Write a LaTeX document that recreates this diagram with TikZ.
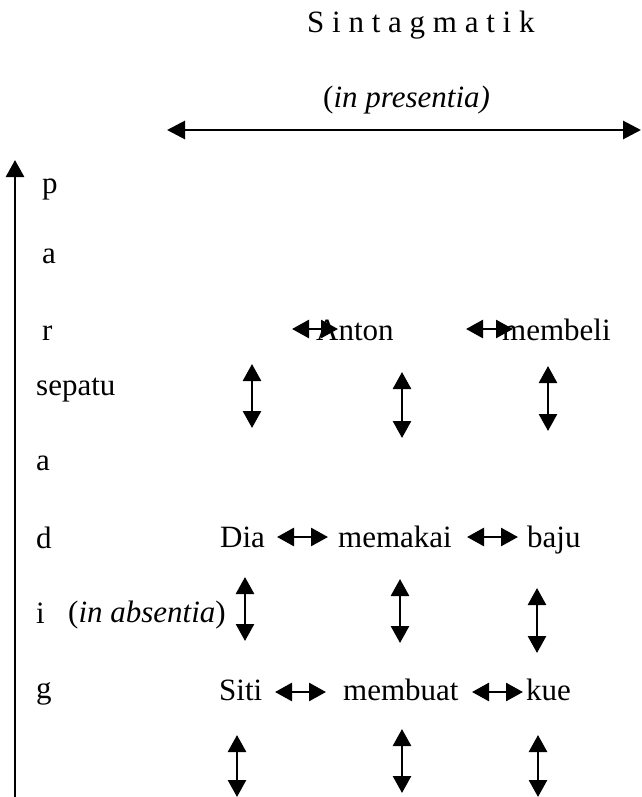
\documentclass[tikz,border=0pt]{standalone}
\usepackage{fontspec}
\setmainfont{Liberation Serif}
\usetikzlibrary{arrows.meta}
\begin{document}
\begin{tikzpicture}[x=1pt,y=-1pt,
  txt/.style={anchor=base west,inner sep=0pt,font=\fontsize{31}{36}\selectfont},
  dbl/.style={{Triangle[length=17pt,width=18pt]}-{Triangle[length=17pt,width=18pt]},line width=2.7pt},
  big/.style={{Triangle[length=18pt,width=18pt]}-{Triangle[length=18pt,width=18pt]},line width=2.9pt},
  axis/.style={-{Triangle[length=17pt,width=18pt]},line width=2.7pt}]
\useasboundingbox (0,0) rectangle (641,797);
% titles
\node[txt] (sin) at (307,33) {S i n t a g m a t i k};
\node[txt] (pres) at (323,108) {(\textit{in presentia)}};
% axes
\coordinate (hl) at (167,130); \coordinate (hr) at (641,130);
\draw[big] (hl) -- (hr);
\coordinate (vb) at (15,797); \coordinate (vt) at (15,160);
\draw[axis] (vb) -- (vt);
% left letters
\node[txt] (p) at (42,193) {p};
\node[txt] (a1) at (42,263) {a};
\node[txt] (r) at (42,340) {r};
\node[txt] (sep) at (36,395) {sepatu};
\node[txt] (a2) at (36,470) {a};
\node[txt] (d) at (36,548) {d};
\node[txt] (i) at (36,623) {i};
\node[txt] (abs) at (68,622) {(\textit{in absentia})};
\node[txt] (g) at (36,698) {g};
% words
\node[txt] (anton) at (316,340) {Anton};
\node[txt] (membeli) at (502,340) {membeli};
\node[txt] (dia) at (220,547) {Dia};
\node[txt] (memakai) at (338,547) {memakai};
\node[txt] (baju) at (527,547) {baju};
\node[txt] (siti) at (219,700) {Siti};
\node[txt] (membuat) at (343,700) {membuat};
\node[txt] (kue) at (526,700) {kue};
% horizontal arrows
\coordinate (h1a) at (292,329); \coordinate (h1b) at (338,329);
\coordinate (h2a) at (466,329); \coordinate (h2b) at (513,329);
\coordinate (h3a) at (277,537); \coordinate (h3b) at (328,537);
\coordinate (h4a) at (467,537); \coordinate (h4b) at (518,537);
\coordinate (h5a) at (275,692); \coordinate (h5b) at (326,692);
\coordinate (h6a) at (472,692); \coordinate (h6b) at (523,692);
\foreach \n in {1,...,6} {\draw[dbl] (h\n a) -- (h\n b);}
% vertical arrows
\coordinate (v1a) at (252,364); \coordinate (v1b) at (252,428);
\coordinate (v2a) at (402,372); \coordinate (v2b) at (402,438);
\coordinate (v3a) at (548,366); \coordinate (v3b) at (548,431);
\coordinate (v4a) at (245,577); \coordinate (v4b) at (245,641);
\coordinate (v5a) at (400,579); \coordinate (v5b) at (400,643);
\coordinate (v6a) at (537,588); \coordinate (v6b) at (537,653);
\coordinate (v7a) at (237,735); \coordinate (v7b) at (237,797);
\coordinate (v8a) at (402,729); \coordinate (v8b) at (402,793);
\coordinate (v9a) at (538,735); \coordinate (v9b) at (538,797);
\foreach \n in {1,...,9} {\draw[dbl] (v\n a) -- (v\n b);}
\end{tikzpicture}
\end{document}
